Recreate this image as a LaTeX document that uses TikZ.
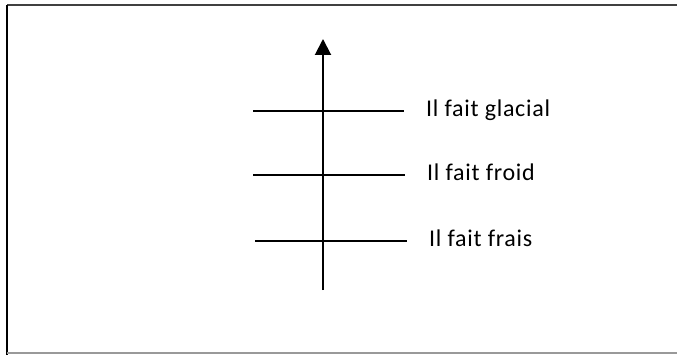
\documentclass[tikz,border=0pt]{standalone}
\usepackage{fontspec}
\setmainfont{Carlito}
\newfontfamily\levelfont{Carlito}[LetterSpace=3]
\usetikzlibrary{arrows.meta,positioning}
\begin{document}
\begin{tikzpicture}[x=1pt,y=-1pt,every node/.style={font=\levelfont\fontsize{24}{28}\selectfont}]
  \useasboundingbox (0,0) rectangle (677,355);
  %% Frame
  \draw[black!75,line width=1.6pt] (7,5) -- (677,5);
  \draw[black,line width=2pt] (7,5) -- (7,355);
  \draw[black!40,line width=1.6pt] (7,353) -- (677,353);
  %% Temperature axis
  \coordinate (axbot) at (323,290);
  \coordinate (axtop) at (323,39);
  \draw[-{Triangle[length=16pt,width=16pt]},line width=2pt] (axbot) -- (axtop);
  %% Levels
  \foreach \y/\xl/\xr/\n/\t in {
      111/253/404/glacial/{Il fait glacial},
      175/253/405/froid/{Il fait froid},
      241/255/407/frais/{Il fait frais}}{
    \coordinate (\n-l) at (\xl,\y);
    \coordinate (\n-r) at (\xr,\y);
    \draw[line width=1.4pt] (\n-l) -- (\n-r);
    \node[anchor=base west,inner sep=0pt] (\n) at ([xshift=22pt,yshift=-5.5pt]\n-r) {\t};
  }
\end{tikzpicture}
\end{document}
